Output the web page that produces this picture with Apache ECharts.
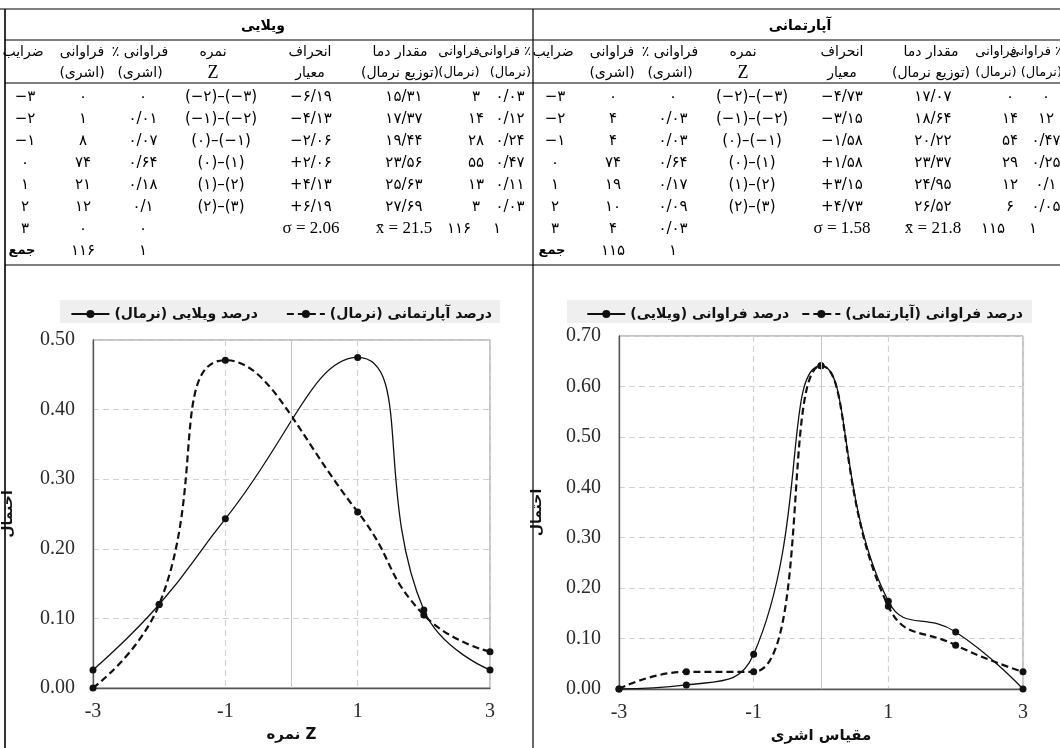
<!DOCTYPE html>
<html lang="fa">
<head>
<meta charset="utf-8">
<title>ECharts</title>
<script src="https://cdn.jsdelivr.net/npm/echarts@6/dist/echarts.min.js"></script>
<style>
html, body { margin: 0; padding: 0; background: #fff; }
#main { width: 1060px; height: 748px; }
</style>
</head>
<body>
<div id="main"></div>
<script>
// ---- table texts ----
var titleVilla = 'ویلایی';
var titleApt = 'آپارتمانی';
var colHeads = [
    ['ضرایب', ''],
    ['فراوانی', '(اشری)'],
    ['٪ فراوانی', '(اشری)'],
    ['نمره', 'Z'],
    ['انحراف', 'معیار'],
    ['مقدار دما', '(توزیع نرمال)'],
    ['فراوانی', '(نرمال)'],
    ['٪ فراوانی', '(نرمال)']
];
var villaRows = [
    ['−۳', '۰', '۰', '(−۲)–(−۳)', '−۶/۱۹', '۱۵/۳۱', '۳', '۰/۰۳'],
    ['−۲', '۱', '۰/۰۱', '(−۱)–(−۲)', '−۴/۱۳', '۱۷/۳۷', '۱۴', '۰/۱۲'],
    ['−۱', '۸', '۰/۰۷', '(۰)–(−۱)', '−۲/۰۶', '۱۹/۴۴', '۲۸', '۰/۲۴'],
    ['۰', '۷۴', '۰/۶۴', '(۰)–(۱)', '+۲/۰۶', '۲۳/۵۶', '۵۵', '۰/۴۷'],
    ['۱', '۲۱', '۰/۱۸', '(۱)–(۲)', '+۴/۱۳', '۲۵/۶۳', '۱۳', '۰/۱۱'],
    ['۲', '۱۲', '۰/۱', '(۲)–(۳)', '+۶/۱۹', '۲۷/۶۹', '۳', '۰/۰۳'],
    ['۳', '۰', '۰', '', 'σ = 2.06', 'x̄ = 21.5', '۱۱۶', '۱']
];
var villaSum = ['جمع', '۱۱۶', '۱'];
var aptRows = [
    ['−۳', '۰', '۰', '(−۲)–(−۳)', '−۴/۷۳', '۱۷/۰۷', '۰', '۰'],
    ['−۲', '۴', '۰/۰۳', '(−۱)–(−۲)', '−۳/۱۵', '۱۸/۶۴', '۱۴', '۱۲'],
    ['−۱', '۴', '۰/۰۳', '(۰)–(−۱)', '−۱/۵۸', '۲۰/۲۲', '۵۴', '۰/۴۷'],
    ['۰', '۷۴', '۰/۶۴', '(۰)–(۱)', '+۱/۵۸', '۲۳/۳۷', '۲۹', '۰/۲۵'],
    ['۱', '۱۹', '۰/۱۷', '(۱)–(۲)', '+۳/۱۵', '۲۴/۹۵', '۱۲', '۰/۱'],
    ['۲', '۱۰', '۰/۰۹', '(۲)–(۳)', '+۴/۷۳', '۲۶/۵۲', '۶', '۰/۰۵'],
    ['۳', '۴', '۰/۰۳', '', 'σ = 1.58', 'x̄ = 21.8', '۱۱۵', '۱']
];
var aptSum = ['جمع', '۱۱۵', '۱'];

// ---- chart data ----
var zScore = [-3, -2, -1, 1, 2, 3];
var villaNormal = [0.026, 0.12, 0.243, 0.475, 0.112, 0.026];
var aptNormal = [0.0, 0.12, 0.471, 0.253, 0.105, 0.052];
var ashraScale = [-3, -2, -1, 0, 1, 2, 3];
var villaFreq = [0, 0.008, 0.069, 0.641, 0.174, 0.113, 0];
var aptFreq = [0, 0.034, 0.034, 0.641, 0.164, 0.087, 0.034];

var legendLeft = ['درصد ویلایی (نرمال)', 'درصد آپارتمانی (نرمال)'];
var legendRight = ['درصد فراوانی (ویلایی)', 'درصد فراوانی (آپارتمانی)'];

// ---- layout ----
var rowY = [97, 119, 141, 163, 185, 207, 229, 251];
var headXL = [23, 82, 140, 213, 310, 400, 459, 531];
var colXL = [25, 83, 143, 221, 311, 404, 476, 510];
var headXR = [553, 612, 670, 743, 842, 931, 996, 1062];
var colXR = [555, 613, 673, 752, 842, 933, 1010, 1046];
var statShift = [0, 0, 0, 0, 0, 0, -17, -13]; // row "3" sits a bit left in the last two cells

var faFont = 'DejaVu Sans';
var g = [];

function T(x, y, s, font, align) {
    g.push({
        type: 'text', x: x, y: y, silent: true,
        style: {
            text: s, font: font, fill: '#000',
            textAlign: align || 'center', textVerticalAlign: 'middle',
            align: align || 'center', verticalAlign: 'middle'
        }
    });
}
function L(x1, y1, x2, y2, w) {
    g.push({
        type: 'line', silent: true,
        shape: { x1: x1, y1: y1, x2: x2, y2: y2 },
        style: { stroke: '#000', lineWidth: w || 1 }
    });
}

function buildTable(title, titleX, headX, colX, rows, sum) {
    T(titleX, 26, title, 'bold 14px ' + faFont);
    colHeads.forEach(function (h, i) {
        var last = i === colHeads.length - 1;
        var al = last ? 'right' : 'center';
        var size = i >= 6 ? '13px ' : '14px ';
        var top = last ? '\u202B' + h[0] + '\u202C' : h[0];
        T(headX[i], 52, top, size + faFont, al);
        if (h[1] === 'Z') T(headX[i], 73, h[1], '18px Liberation Serif', al);
        else if (h[1]) T(headX[i], 73, h[1], size + faFont, al);
    });
    rows.forEach(function (r, ri) {
        r.forEach(function (s, ci) {
            if (!s) return;
            var f = (s[0] === 'σ' || s[0] === 'x') ? '17px Liberation Serif' : '15px ' + faFont;
            var dx = ri === rows.length - 1 ? statShift[ci] : 0;
            T(colX[ci] + dx, rowY[ri], s, f);
        });
    });
    T(colX[0] - 3, rowY[7], sum[0], 'bold 13px ' + faFont);
    T(colX[1], rowY[7], sum[1], '15px ' + faFont);
    T(colX[2], rowY[7], sum[2], '15px ' + faFont);
}

buildTable(titleVilla, 263, headXL, colXL, villaRows, villaSum);
buildTable(titleApt, 800, headXR, colXR, aptRows, aptSum);

// frame lines
L(0, 9, 1060, 9, 1.2);
L(5, 40, 1060, 40, 1);
L(5, 83, 1060, 83, 1.2);
L(5, 265, 1060, 265, 1.2);
L(5, 9, 5, 748, 1.6);
L(533, 9, 533, 748, 1.2);

// legend backgrounds
g.push({ type: 'rect', silent: true, z: -1, shape: { x: 60, y: 300, width: 440, height: 23 }, style: { fill: '#efefef' } });
g.push({ type: 'rect', silent: true, z: -1, shape: { x: 567, y: 300, width: 465, height: 23 }, style: { fill: '#efefef' } });

var labelStyle = { fontFamily: 'Liberation Serif', fontSize: 20, color: '#2b2b2b' };
var nameStyle = { fontFamily: faFont, fontWeight: 'bold', fontSize: 15, color: '#111' };
var gridLine = { color: '#d2d2d2', type: [6, 4], width: 1.2 };

function xAx(idx, name) {
    return {
        type: 'value', gridIndex: idx, min: -3, max: 3, interval: 2,
        name: name, nameLocation: 'middle', nameGap: 40, nameTextStyle: nameStyle,
        axisLine: { onZero: false, lineStyle: { color: '#555', width: 1.3 } },
        axisTick: { show: false },
        axisLabel: Object.assign({ margin: 14, formatter: function (v) { return String(v); } }, labelStyle),
        splitLine: { show: true, lineStyle: gridLine }
    };
}
function yAx(idx, max, gap) {
    return {
        type: 'value', gridIndex: idx, min: 0, max: max, interval: 0.1,
        name: 'احتمال', nameLocation: 'middle', nameGap: gap, nameRotate: 90,
        nameTextStyle: { fontFamily: faFont, fontWeight: 'bold', fontSize: 14, color: '#111' },
        axisLine: { show: true, onZero: false, lineStyle: { color: '#555', width: 1.3 } },
        axisTick: { show: false },
        axisLabel: Object.assign({ margin: 18, formatter: function (v) { return v.toFixed(2); } }, labelStyle),
        splitLine: { show: true, lineStyle: gridLine }
    };
}
function lineSeries(name, xs, ys, idx, dashed) {
    return {
        type: 'line', name: name, xAxisIndex: idx, yAxisIndex: idx,
        data: xs.map(function (x, i) { return [x, ys[i]]; }),
        smooth: 0.5, symbol: 'circle', symbolSize: 7,
        itemStyle: { color: '#111' },
        lineStyle: { color: '#111', width: dashed ? 2.2 : 1.3, type: dashed ? [7, 4] : 'solid' },
        z: dashed ? 3 : 2
    };
}
function zeroLine() {
    return {
        silent: true, symbol: 'none', label: { show: false },
        lineStyle: { color: '#c4c4c4', type: 'solid', width: 1 },
        data: [{ xAxis: 0 }]
    };
}

var sVillaN = lineSeries(legendLeft[0], zScore, villaNormal, 0, false);
sVillaN.markLine = zeroLine();
var sVillaF = lineSeries(legendRight[0], ashraScale, villaFreq, 1, false);
sVillaF.markLine = zeroLine();

var legendText = { fontFamily: faFont, fontWeight: 'bold', fontSize: 14, color: '#111' };

var chart = echarts.init(document.getElementById('main'));
chart.setOption({
    animation: false,
    backgroundColor: '#fff',
    graphic: { elements: g },
    legend: [
        { data: legendLeft, right: 563, top: 302, itemWidth: 38, itemHeight: 10, itemGap: 28, textStyle: legendText },
        { data: legendRight, right: 32, top: 302, itemWidth: 38, itemHeight: 10, itemGap: 12, textStyle: legendText }
    ],
    grid: [
        { left: 92, right: 570, top: 340, bottom: 60, show: true, borderColor: '#8a8a8a', borderWidth: 1 },
        { left: 619, right: 37, top: 336, bottom: 59, show: true, borderColor: '#8a8a8a', borderWidth: 1 }
    ],
    xAxis: [xAx(0, 'نمره Z'), xAx(1, 'مقیاس اشری')],
    yAxis: [yAx(0, 0.5, 78), yAx(1, 0.7, 75)],
    series: [
        sVillaN,
        lineSeries(legendLeft[1], zScore, aptNormal, 0, true),
        sVillaF,
        lineSeries(legendRight[1], ashraScale, aptFreq, 1, true)
    ]
});
</script>
</body>
</html>
